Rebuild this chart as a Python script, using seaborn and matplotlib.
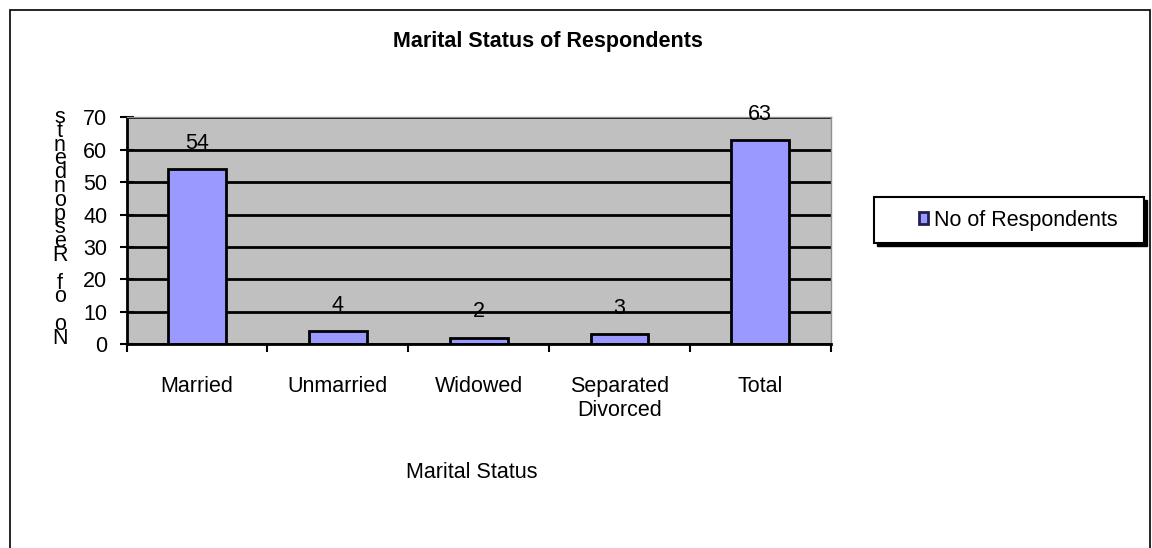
import matplotlib
matplotlib.use("Agg")
import matplotlib.pyplot as plt
from matplotlib.patches import Rectangle
from matplotlib.ticker import FixedLocator
import seaborn as sns
import pandas as pd

categories = ["Married", "Unmarried", "Widowed", "Separated\nDivorced", "Total"]
respondents = [54, 4, 2, 3, 63]
series_name = "No of Respondents"
y_ticks = [0, 10, 20, 30, 40, 50, 60, 70]

plt.rcParams["font.family"] = ["Liberation Sans", "DejaVu Sans"]
FS = 15.5

df = pd.DataFrame({"Marital Status": categories, series_name: respondents})

fig = plt.figure(figsize=(11.52, 5.48), dpi=100)
ax = fig.add_axes([0.110, 0.372, 0.611, 0.414])

sns.barplot(data=df, x="Marital Status", y=series_name, color="#9999FF",
            saturation=1, edgecolor="black", linewidth=2, width=0.41, ax=ax,
            label=series_name, legend=False)

ax.set_facecolor("#C0C0C0")
ax.set_ylim(0, 70)
ax.set_xlim(-0.5, len(categories) - 0.5)
ax.set_yticks(y_ticks)
ax.yaxis.grid(True, color="black", linewidth=2)
ax.set_axisbelow(True)

for side in ("left", "bottom"):
    ax.spines[side].set_color("black")
    ax.spines[side].set_linewidth(2)
for side in ("top", "right"):
    ax.spines[side].set_color("#909090")
    ax.spines[side].set_linewidth(1)

ax.tick_params(axis="y", direction="inout", length=10, width=1.5,
               labelsize=FS, pad=9)
ax.tick_params(axis="x", which="major", length=0, labelsize=FS, pad=23)
ax.xaxis.set_minor_locator(FixedLocator([i - 0.5 for i in range(len(categories) + 1)]))
ax.tick_params(axis="x", which="minor", direction="out", length=6, width=1.5)

ax.bar_label(ax.containers[0], padding=11, fontsize=FS)

ax.set_xlabel("Marital Status", fontsize=FS)
ax.xaxis.label.set_va("center")
ax.xaxis.set_label_coords(0.49, -0.564)
ax.set_ylabel("")

fig.suptitle("Marital Status of Respondents", x=0.476, y=0.925, va="center",
             fontsize=FS, fontweight="bold")

# value-axis title as a column of upright letters, read bottom to top
stacked = "\n".join(reversed(list(series_name)))
fig.text(0.052, 1 - 228 / 548, stacked, fontsize=FS, ha="center",
         va="center", multialignment="center", linespacing=0.55)

# legend box with a drop shadow
bx0, by0, bw, bh = 874 / 1152, 1 - 243 / 548, 270 / 1152, 46 / 548
fig.patches.append(Rectangle((bx0 + 3 / 1152, by0 - 3 / 548), bw, bh,
                             transform=fig.transFigure, facecolor="black",
                             edgecolor="black", zorder=1))
fig.patches.append(Rectangle((bx0, by0), bw, bh, transform=fig.transFigure,
                             facecolor="white", edgecolor="black",
                             linewidth=1.5, zorder=2))
handles, labels = ax.get_legend_handles_labels()
leg = fig.legend(handles, labels, loc="center",
                 bbox_to_anchor=(1018 / 1152, 1 - 220 / 548),
                 frameon=False, fontsize=FS, handlelength=0.45,
                 handleheight=0.45, handletextpad=0.25, borderpad=0,
                 borderaxespad=0)
leg.set_zorder(5)
for h in leg.legend_handles:
    h.set_edgecolor("#202050")
    h.set_linewidth(2)

fig.patches.append(Rectangle((10 / 1152, -0.01), 1140 / 1152, 1 - 10 / 548 + 0.01,
                             transform=fig.transFigure, fill=False,
                             edgecolor="black", linewidth=1.2))

fig.savefig("out.png", dpi=100, facecolor="white")
